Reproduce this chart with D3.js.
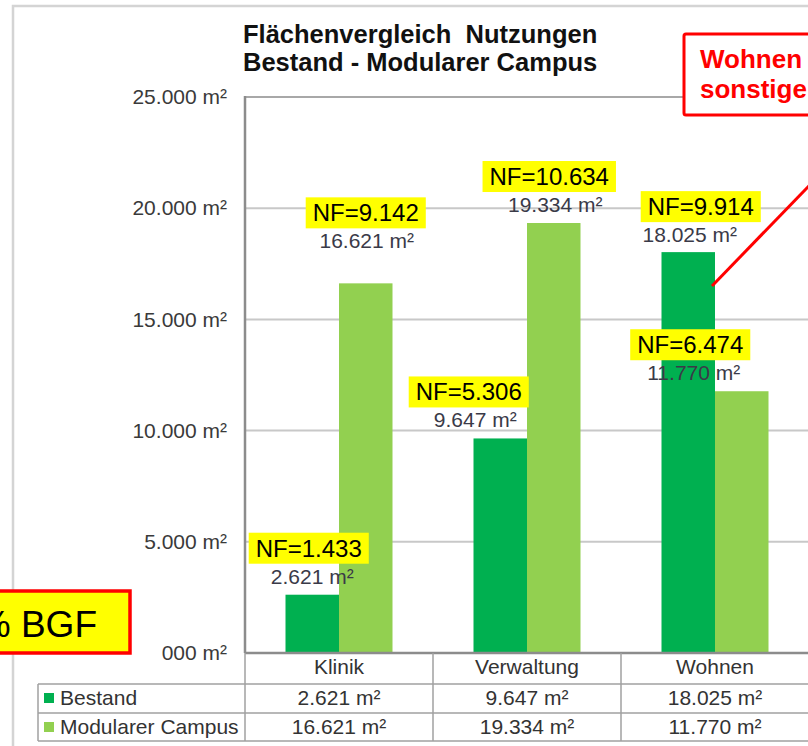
<!DOCTYPE html>
<html>
<head>
<meta charset="utf-8">
<script src="https://cdn.jsdelivr.net/npm/d3@7"></script>
<style>
  body { margin: 0; background: #fff; }
  text { font-family: Arial, "Liberation Sans", sans-serif; }
  .title { white-space: pre; }
</style>
</head>
<body>
<div id="chart"></div>
<script>
// data
var categories = ["Klinik", "Verwaltung", "Wohnen"];
var seriesNames = ["Bestand", "Modularer Campus"];
var bestand = [2621, 9647, 18025];
var modular = [16621, 19334, 11770];
var nfBestand = [1433, 5306, 9914];
var nfModular = [9142, 10634, 6474];
var yTicks = [0, 5000, 10000, 15000, 20000, 25000];
var yTickLabels = ["000 m²", "5.000 m²", "10.000 m²", "15.000 m²", "20.000 m²", "25.000 m²"];
var titleLines = ["Flächenvergleich  Nutzungen", "Bestand - Modularer Campus"];

var svgWidth = 808;
var svgHeight = 746;
var colors = ["#00b050", "#92d050"];

var de = d3.formatLocale({decimal: ",", thousands: ".", grouping: [3], currency: ["", ""]});
var fmt = de.format(",d");

var svg = d3.select("#chart")
  .append("svg")
  .attr("width", svgWidth)
  .attr("height", svgHeight);

// outer chart frame
svg.append("rect")
  .attr("x", 13).attr("y", 6)
  .attr("width", 900).attr("height", 800)
  .attr("fill", "none")
  .attr("stroke", "#d4d4d4")
  .attr("stroke-width", 2.5);

var plot = {left: 245, top: 97, bottom: 653, right: 809};

var x = d3.scaleBand()
  .domain(categories)
  .range([plot.left, plot.right]);

var xSub = d3.scaleBand()
  .domain(seriesNames)
  .range([0, x.bandwidth()])
  .paddingOuter(0.757);

var y = d3.scaleLinear()
  .domain([0, 25000])
  .range([plot.bottom, plot.top]);

// gridlines
svg.append("g")
  .selectAll("line")
  .data(yTicks.slice(1, -1))
  .enter()
  .append("line")
  .attr("x1", plot.left).attr("x2", svgWidth)
  .attr("y1", d => y(d)).attr("y2", d => y(d))
  .attr("stroke", "#c8c8c8")
  .attr("stroke-width", 2);

// plot area top border
svg.append("line")
  .attr("x1", plot.left).attr("x2", svgWidth)
  .attr("y1", y(25000)).attr("y2", y(25000))
  .attr("stroke", "#a8a8a8")
  .attr("stroke-width", 2);

// y axis labels
var leftAxis = d3.axisLeft(y)
  .tickValues(yTicks)
  .tickSize(0)
  .tickPadding(18)
  .tickFormat((d, i) => yTickLabels[i]);

var yAxis = svg.append("g")
  .attr("transform", `translate(${plot.left}, 0)`)
  .call(leftAxis);
yAxis.select(".domain").remove();
yAxis.selectAll("text")
  .attr("font-size", 21)
  .attr("font-family", "Arial, 'Liberation Sans', sans-serif")
  .attr("fill", "#3a3a3a");

// bars
var rows = categories.map((c, i) => ({cat: c, values: [bestand[i], modular[i]]}));

var groups = svg.append("g")
  .selectAll("g")
  .data(rows)
  .enter()
  .append("g")
  .attr("transform", d => `translate(${x(d.cat)}, 0)`);

groups.selectAll("rect")
  .data(d => d.values.map((v, j) => ({name: seriesNames[j], value: v, j: j})))
  .enter()
  .append("rect")
  .attr("x", d => xSub(d.name))
  .attr("y", d => y(d.value))
  .attr("width", xSub.bandwidth())
  .attr("height", d => plot.bottom - y(d.value))
  .attr("fill", d => colors[d.j]);

// left axis line + bottom axis
svg.append("line")
  .attr("x1", plot.left).attr("x2", plot.left)
  .attr("y1", plot.top - 1).attr("y2", plot.bottom)
  .attr("stroke", "#8c8c8c").attr("stroke-width", 2.5);
svg.append("line")
  .attr("x1", plot.left).attr("x2", svgWidth)
  .attr("y1", plot.bottom).attr("y2", plot.bottom)
  .attr("stroke", "#8c8c8c").attr("stroke-width", 2.5);

// value labels + NF boxes (moved by hand in the original, so nudged here)
var nudge = [
  [{dx: 0, dy: 0, bx: -3.5}, {dx: 1, dy: -24, bx: -1}],
  [{dx: -25, dy: 0, bx: -6.5}, {dx: 1.5, dy: 0, bx: -6}],
  [{dx: 1.5, dy: 1, bx: 11}, {dx: -48, dy: 0, bx: -3.5}]
];
var labelData = [];
categories.forEach((c, i) => {
  [bestand[i], modular[i]].forEach((v, j) => {
    var n = nudge[i][j];
    var cx = x(c) + xSub(seriesNames[j]) + xSub.bandwidth() / 2 + n.dx;
    var base = y(v) - 11 + n.dy;
    labelData.push({value: v, nf: j === 0 ? nfBestand[i] : nfModular[i], cx: cx, base: base, bx: cx + n.bx});
  });
});

var lab = svg.append("g").selectAll("g")
  .data(labelData)
  .enter()
  .append("g");

lab.append("text")
  .attr("x", d => d.cx)
  .attr("y", d => d.base)
  .attr("text-anchor", "middle")
  .attr("font-size", 21)
  .attr("fill", "#3a3a48")
  .text(d => fmt(d.value) + " m²");

lab.each(function(d) {
  var g = d3.select(this);
  var t = g.append("text")
    .attr("x", d.bx)
    .attr("y", d.base - 20 - 7)
    .attr("text-anchor", "middle")
    .attr("font-size", 24)
    .attr("fill", "#000")
    .text("NF=" + fmt(d.nf));
  var w = t.node().getComputedTextLength() + 14;
  g.insert("rect", "text:last-child")
    .attr("x", d.bx - w / 2)
    .attr("y", d.base - 20 - 31)
    .attr("width", w)
    .attr("height", 31)
    .attr("fill", "#ffff00");
});

// data table under the chart
var table = {left: 38, r0: plot.bottom, r1: 684, r2: 713, r3: 741};
var tg = svg.append("g");
var lineColor = "#a0a0a0";

[table.r1, table.r2, table.r3].forEach(yy => {
  tg.append("line")
    .attr("x1", table.left).attr("x2", svgWidth)
    .attr("y1", yy).attr("y2", yy)
    .attr("stroke", lineColor).attr("stroke-width", 1.5);
});
tg.append("line")
  .attr("x1", table.left).attr("x2", table.left)
  .attr("y1", table.r1).attr("y2", table.r3)
  .attr("stroke", lineColor).attr("stroke-width", 1.5);
categories.forEach(c => {
  tg.append("line")
    .attr("x1", x(c)).attr("x2", x(c))
    .attr("y1", table.r0).attr("y2", table.r3)
    .attr("stroke", lineColor).attr("stroke-width", 1.5);
});
tg.append("line")
  .attr("x1", plot.right).attr("x2", plot.right)
  .attr("y1", table.r0).attr("y2", table.r3)
  .attr("stroke", lineColor).attr("stroke-width", 1.5);

tg.selectAll("text.cat")
  .data(categories)
  .enter()
  .append("text")
  .attr("class", "cat")
  .attr("x", d => x(d) + x.bandwidth() / 2)
  .attr("y", 674)
  .attr("text-anchor", "middle")
  .attr("font-size", 21)
  .attr("fill", "#333")
  .text(d => d);

[bestand, modular].forEach((vals, j) => {
  var base = j === 0 ? 705 : 734;
  tg.append("rect")
    .attr("x", 44).attr("y", base - 12)
    .attr("width", 10).attr("height", 10)
    .attr("fill", colors[j]);
  tg.append("text")
    .attr("x", 60).attr("y", base)
    .attr("font-size", 21)
    .attr("fill", "#333")
    .text(seriesNames[j]);
  tg.selectAll("text.v" + j)
    .data(vals)
    .enter()
    .append("text")
    .attr("class", "v" + j)
    .attr("x", (d, i) => x(categories[i]) + x.bandwidth() / 2)
    .attr("y", base)
    .attr("text-anchor", "middle")
    .attr("font-size", 21)
    .attr("fill", "#333")
    .text(d => fmt(d) + " m²");
});

// title
svg.append("g").selectAll("text")
  .data(titleLines)
  .enter()
  .append("text")
  .attr("class", "title")
  .attr("x", 243)
  .attr("y", (d, i) => 43 + i * 28)
  .attr("font-size", 25.5)
  .attr("font-weight", "bold")
  .attr("fill", "#111")
  .text(d => d);

// callout box, top right
svg.append("rect")
  .attr("x", 684).attr("y", 34)
  .attr("width", 200).attr("height", 81)
  .attr("rx", 2)
  .attr("fill", "#fff")
  .attr("stroke", "#ff0000")
  .attr("stroke-width", 3);
svg.append("text")
  .attr("x", 700).attr("y", 68)
  .attr("font-size", 26).attr("font-weight", "bold")
  .attr("fill", "#ff0000")
  .text("Wohnen");
svg.append("text")
  .attr("x", 700).attr("y", 98)
  .attr("font-size", 26).attr("font-weight", "bold")
  .attr("fill", "#ff0000")
  .text("sonstige");

// pointer line into the Wohnen/Bestand bar
var px = x("Wohnen") + xSub("Bestand") + xSub.bandwidth() - 3;
var py = 286;
svg.append("line")
  .attr("x1", px).attr("y1", py)
  .attr("x2", px + 120).attr("y2", py - 124)
  .attr("stroke", "#ff0000")
  .attr("stroke-width", 3);

// yellow note at left (cut by the picture edge, as in the original)
svg.append("rect")
  .attr("x", -20).attr("y", 591)
  .attr("width", 150).attr("height", 62)
  .attr("fill", "#ffff00")
  .attr("stroke", "#ff0000")
  .attr("stroke-width", 3.5);
svg.append("text")
  .attr("x", 97).attr("y", 637)
  .attr("text-anchor", "end")
  .attr("font-size", 37)
  .attr("fill", "#000")
  .text("% BGF");
</script>
</body>
</html>
